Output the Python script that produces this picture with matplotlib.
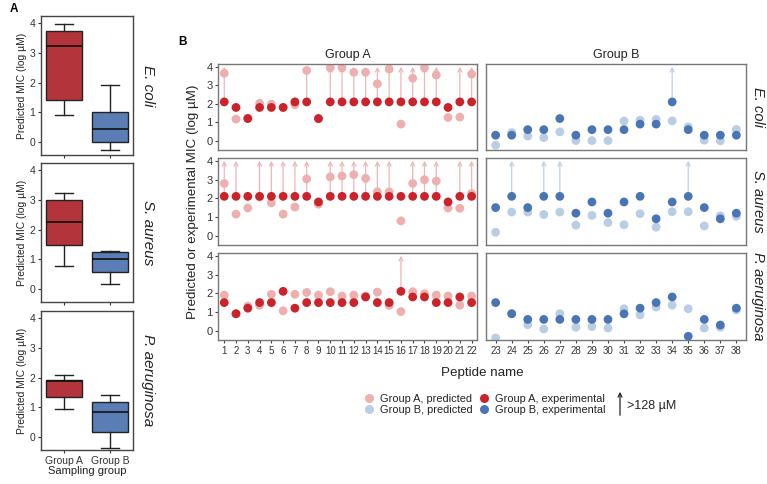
import matplotlib
matplotlib.use("Agg")
import matplotlib.pyplot as plt
from matplotlib.lines import Line2D
import numpy as np

plt.rcParams['font.family'] = ['Liberation Sans', 'DejaVu Sans']

# ---------------- data ----------------
species = ["E. coli", "S. aureus", "P. aeruginosa"]
groups = ["Group A", "Group B"]

# Panel A box statistics (whislo, q1, med, q3, whishi) per species, per group
box_A = {"E. coli": [0.90, 1.42, 3.22, 3.72, 3.95],
         "S. aureus": [0.78, 1.47, 2.25, 2.97, 3.22],
         "P. aeruginosa": [0.96, 1.35, 1.90, 1.93, 2.07]}
box_B = {"E. coli": [-0.25, 0.02, 0.45, 1.00, 1.93],
         "S. aureus": [0.17, 0.58, 1.03, 1.24, 1.27],
         "P. aeruginosa": [-0.35, 0.18, 0.85, 1.17, 1.40]}

pep_A = list(range(1, 23))
pep_B = list(range(23, 39))

# Group A
pred_A_ecoli = [3.65, 1.17, 1.22, 2.02, 1.98, 1.80, 1.94, 3.80, 1.20, 3.95, 3.95,
                3.70, 3.70, 3.08, 3.88, 0.90, 3.38, 3.95, 3.55, 1.26, 1.28, 3.60]
exp_A_ecoli = [2.1, 1.8, 1.2, 1.8, 1.8, 1.8, 2.1, 2.1, 1.2, 2.1, 2.1,
               2.1, 2.1, 2.1, 2.1, 2.1, 2.1, 2.1, 2.1, 1.8, 2.1, 2.1]
gt_A_ecoli = [1, 0, 0, 0, 0, 0, 0, 1, 0, 1, 1, 1, 1, 1, 1, 1, 1, 1, 1, 0, 1, 1]

pred_A_saur = [2.79, 1.15, 1.48, 2.07, 1.75, 1.15, 1.53, 3.03, 1.68, 3.14, 3.19,
               3.26, 3.06, 2.34, 2.34, 0.79, 2.79, 2.99, 2.92, 1.48, 1.46, 2.25]
exp_A_saur = [2.1, 2.1, 2.1, 2.1, 2.1, 2.1, 2.1, 2.1, 1.8, 2.1, 2.1,
              2.1, 2.1, 2.1, 2.1, 2.1, 2.1, 2.1, 2.1, 1.8, 2.1, 2.1]
gt_A_saur = [1, 1, 0, 1, 1, 1, 1, 1, 0, 1, 1, 1, 1, 1, 1, 0, 1, 1, 1, 0, 1, 1]

pred_A_paer = [1.90, 0.92, 1.31, 1.35, 1.94, 1.06, 1.94, 2.04, 1.90, 2.08, 1.85,
               1.90, 1.85, 2.06, 1.35, 1.02, 2.08, 1.97, 1.90, 1.85, 1.36, 1.85]
exp_A_paer = [1.5, 0.9, 1.2, 1.5, 1.5, 2.1, 1.2, 1.5, 1.5, 1.5, 1.5,
              1.5, 1.8, 1.5, 1.5, 2.1, 1.8, 1.8, 1.5, 1.5, 1.8, 1.5]
gt_A_paer = [0] * 15 + [1] + [0] * 6

# Group B
pred_B_ecoli = [-0.24, 0.44, 0.25, 0.17, 0.48, 0.01, 0.01, 0.01,
                1.07, 1.11, 1.15, 1.07, 0.75, 0.03, 0.00, 0.61]
exp_B_ecoli = [0.3, 0.3, 0.6, 0.6, 1.2, 0.3, 0.6, 0.6,
               0.6, 0.9, 0.9, 2.1, 0.6, 0.3, 0.3, 0.3]
gt_B_ecoli = [0] * 11 + [1] + [0] * 4

pred_B_saur = [0.18, 1.26, 1.26, 1.13, 1.26, 0.56, 1.08, 0.70,
               0.58, 1.17, 0.45, 1.28, 1.28, 0.52, 1.06, 1.03]
exp_B_saur = [1.5, 2.1, 1.5, 2.1, 2.1, 1.2, 1.8, 1.2,
              1.8, 2.1, 0.9, 1.8, 2.1, 1.5, 0.9, 1.2]
gt_B_saur = [0, 1, 0, 1, 1, 0, 0, 0, 0, 0, 0, 0, 1, 0, 0, 0]

pred_B_paer = [-0.39, 0.92, 0.32, 0.09, 0.91, 0.18, 0.22, 0.14,
               1.17, 0.84, 1.26, 1.36, 1.17, 0.14, 0.18, 1.11]
exp_B_paer = [1.5, 0.9, 0.6, 0.6, 0.6, 0.6, 0.6, 0.6,
              0.9, 1.2, 1.5, 1.8, -0.3, 0.6, 0.3, 1.2]
gt_B_paer = [0] * 16

data_A = {"E. coli": (pred_A_ecoli, exp_A_ecoli, gt_A_ecoli),
          "S. aureus": (pred_A_saur, exp_A_saur, gt_A_saur),
          "P. aeruginosa": (pred_A_paer, exp_A_paer, gt_A_paer)}
data_B = {"E. coli": (pred_B_ecoli, exp_B_ecoli, gt_B_ecoli),
          "S. aureus": (pred_B_saur, exp_B_saur, gt_B_saur),
          "P. aeruginosa": (pred_B_paer, exp_B_paer, gt_B_paer)}

arrow_top = 4.0
yticks = [0, 1, 2, 3, 4]

# ---------------- styles ----------------
col_box_A = "#B3353B"
col_box_B = "#5A7DB5"
col_exp_A = "#CC2229"
col_pred_A = "#EDB0AF"
col_exp_B = "#4A75B5"
col_pred_B = "#B9CDE5"
col_arr_A = "#EFB5BA"
col_arr_B = "#BFD0E6"

W, H = 767, 484
fig = plt.figure(figsize=(W / 100, H / 100), dpi=100)


def px_axes(x0, y0, x1, y1):
    return fig.add_axes([x0 / W, 1 - y1 / H, (x1 - x0) / W, (y1 - y0) / H])


# ---------------- Panel A ----------------
rowsA = [(16, 155), (163, 302), (311, 450)]
for i, sp in enumerate(species):
    ax = px_axes(41, rowsA[i][0], 133, rowsA[i][1])
    stats = []
    for k, b in enumerate([box_A[sp], box_B[sp]]):
        stats.append(dict(whislo=b[0], q1=b[1], med=b[2], q3=b[3], whishi=b[4], fliers=[]))
    bp = ax.bxp(stats, positions=[1, 2], widths=0.8, patch_artist=True,
                showfliers=False, capwidths=0.4,
                boxprops=dict(edgecolor="#222222", linewidth=1.0),
                medianprops=dict(color="#111111", linewidth=1.2),
                whiskerprops=dict(color="#222222", linewidth=1.0),
                capprops=dict(color="#222222", linewidth=1.0))
    for patch, c in zip(bp['boxes'], [col_box_A, col_box_B]):
        patch.set_facecolor(c)
    ax.set_xlim(0.5, 2.5)
    ax.set_ylim(-0.42, 4.22)
    ax.set_yticks(yticks)
    ax.set_xticks([1, 2])
    if i == 2:
        ax.set_xticklabels(groups, fontsize=7.4, color="#222222")
        ax.set_xlabel("Sampling group", fontsize=8, color="#222222", labelpad=0)
    else:
        ax.set_xticklabels([])
    ax.tick_params(axis='both', length=2.5, width=0.8, color="#333333", pad=1.5,
                   labelsize=7.5, labelcolor="#333333")
    for s in ax.spines.values():
        s.set_color("#444444")
        s.set_linewidth(1.0)
    ax.set_ylabel("Predicted MIC (log µM)", fontsize=7.4, color="#222222", labelpad=2)
    ax.text(1.16, 0.5, sp, transform=ax.transAxes, rotation=-90, va='center',
            ha='center', fontsize=11, style='italic', color="#222222")

fig.text(10 / W, 1 - 9 / H, "A", fontsize=8.5, fontweight='bold', ha='left', va='center')
fig.text(178 / W, 1 - 42 / H, "B", fontsize=8.5, fontweight='bold', ha='left', va='center')

# ---------------- Panel B ----------------
rowsB = [(64, 150), (158, 245), (253, 340)]
colsB = [(218, 477.5), (486, 746)]
for i, sp in enumerate(species):
    for j, g in enumerate(groups):
        ax = px_axes(colsB[j][0], rowsB[i][0], colsB[j][1], rowsB[i][1])
        if j == 0:
            pep = pep_A
            pred, exp_, gt = data_A[sp]
            cp, ce, ca = col_pred_A, col_exp_A, col_arr_A
            ax.set_xlim(0.47, 22.5)
        else:
            pep = pep_B
            pred, exp_, gt = data_B[sp]
            cp, ce, ca = col_pred_B, col_exp_B, col_arr_B
            ax.set_xlim(22.4, 38.6)
        ax.set_ylim(-0.5, 4.15)
        for x, e, flag in zip(pep, exp_, gt):
            if flag:
                ax.annotate("", xy=(x, arrow_top), xytext=(x, e),
                            arrowprops=dict(arrowstyle='->', color=ca, lw=0.9,
                                            shrinkA=0, shrinkB=0, mutation_scale=7),
                            zorder=1)
        ax.scatter(pep, pred, s=40, color=cp, edgecolors='none', zorder=2)
        ax.scatter(pep, exp_, s=40, color=ce, edgecolors='none', zorder=3)
        ax.set_xticks(pep)
        ax.set_yticks(yticks)
        if i == 2:
            ax.set_xticklabels([str(p) for p in pep], fontsize=7, color="#333333")
        else:
            ax.tick_params(axis='x', bottom=False, labelbottom=False)
        if j == 0:
            ax.set_yticklabels([str(t) for t in yticks], fontsize=8, color="#333333")
        else:
            ax.tick_params(axis='y', left=False, labelleft=False)
        ax.tick_params(axis='both', length=2.5, width=0.8, color="#444444", pad=1.5)
        for s in ax.spines.values():
            s.set_color("#777777")
            s.set_linewidth(1.0)
        if i == 0:
            ax.set_title(g, fontsize=9, color="#222222", pad=4)
        if j == 1:
            ax.text(1.045, 0.5, sp, transform=ax.transAxes, rotation=-90, va='center',
                    ha='center', fontsize=10.5, style='italic', color="#222222")

fig.text(193 / W, 1 - 202 / H, "Predicted or experimental MIC (log µM)", rotation=90,
         fontsize=9.6, color="#222222", ha='center', va='center')
fig.text(482 / W, 1 - 373 / H, "Peptide name", fontsize=9.6, color="#222222",
         ha='center', va='center')

# ---------------- legend ----------------
handles = [Line2D([], [], marker='o', ls='none', markersize=6.5, color=col_pred_A, markeredgewidth=0),
           Line2D([], [], marker='o', ls='none', markersize=6.5, color=col_pred_B, markeredgewidth=0),
           Line2D([], [], marker='o', ls='none', markersize=6.5, color=col_exp_A, markeredgewidth=0),
           Line2D([], [], marker='o', ls='none', markersize=6.5, color=col_exp_B, markeredgewidth=0)]
labels = ["Group A, predicted", "Group B, predicted",
          "Group A, experimental", "Group B, experimental"]
fig.legend(handles, labels, ncol=2, loc='center left',
           bbox_to_anchor=(358 / W, 1 - 404.5 / H), frameon=False, fontsize=7.9,
           handlelength=1.0, handletextpad=0.5, columnspacing=0.55, labelspacing=0.15,
           borderpad=0, labelcolor="#222222")

fig.add_artist(matplotlib.patches.FancyArrowPatch(
    (620 / W, 1 - 418 / H), (620 / W, 1 - 389 / H), transform=fig.transFigure,
    arrowstyle='->', mutation_scale=7, color="#222222", lw=0.9))
fig.text(627 / W, 1 - 406 / H, ">128 µM", fontsize=9, color="#222222",
         ha='left', va='center')

fig.savefig("out.png", dpi=100)
